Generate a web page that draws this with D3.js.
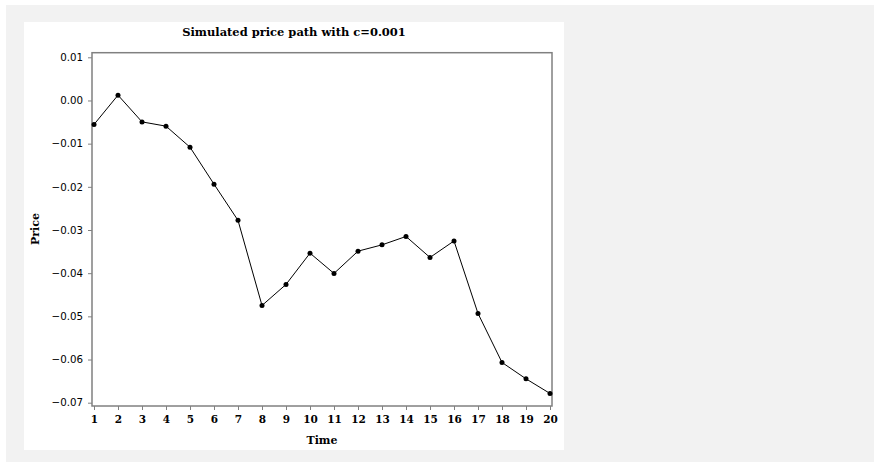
<!DOCTYPE html>
<html><head><meta charset="utf-8">
<script src="https://cdn.jsdelivr.net/npm/d3@7"></script>
<style>html,body{margin:0;padding:0;background:#fff;}</style>
</head><body>
<svg id="c" width="874" height="463"></svg>
<script>
const times = [1,2,3,4,5,6,7,8,9,10,11,12,13,14,15,16,17,18,19,20];
const prices = [-0.00556,0.00123,-0.00496,-0.00595,-0.01082,-0.01938,-0.02777,-0.04748,-0.04261,-0.03536,-0.04006,-0.0349,-0.03344,-0.0315,-0.03636,-0.03254,-0.04933,-0.06068,-0.06447,-0.06786];
const yTicks = [0.01,0.00,-0.01,-0.02,-0.03,-0.04,-0.05,-0.06,-0.07];
const titleText = "Simulated price path with c=0.001";
const xLabel = "Time", yLabel = "Price";

const svg = d3.select("#c");
svg.append("rect").attr("x",6).attr("y",5).attr("width",868).attr("height",457).attr("fill","#f2f2f2");
svg.append("rect").attr("x",24).attr("y",22).attr("width",540).attr("height",428).attr("fill","#fff");

const L=92,R=552,T=52.7,B=406;
const x = d3.scaleLinear().domain([1,20]).range([94,550]);
const y = d3.scaleLinear().domain([0.01,-0.07]).range([57.3,402.7]);
const serif = "'DejaVu Serif', 'Liberation Serif', serif";
const sans = "'DejaVu Sans', sans-serif";
const fmt = v => (v<0?"\u2212":"") + Math.abs(v).toFixed(2);

const gx = svg.append("g").attr("transform",`translate(0,${B})`)
  .call(d3.axisBottom(x).tickValues(times).tickSize(4).tickPadding(5.5).tickFormat(d3.format("d")));
gx.select(".domain").remove();
gx.selectAll("line").attr("stroke","#808080");
gx.selectAll("text").attr("font-family",serif).attr("font-size",10.5).attr("font-weight","bold").attr("fill","#000");

const gy = svg.append("g").attr("transform",`translate(${L},0)`)
  .call(d3.axisLeft(y).tickValues(yTicks).tickSize(4).tickPadding(5).tickFormat(fmt));
gy.select(".domain").remove();
gy.selectAll("line").attr("stroke","#808080");
gy.selectAll("text").attr("font-family",sans).attr("font-size",12).attr("fill","#000");
// fit width of the widest label to the reference (~31.5px)
let maxW = 0;
gy.selectAll("text").each(function(){ maxW = Math.max(maxW, this.getComputedTextLength()); });
if (maxW > 0) gy.selectAll("text").attr("font-size", 12 * 31.5 / maxW);

svg.append("rect").attr("x",L).attr("y",T).attr("width",R-L).attr("height",B-T)
  .attr("fill","none").attr("stroke","#808080").attr("stroke-width",1.5);

const line = d3.line().x((d,i)=>x(times[i])).y(d=>y(d));
svg.append("path").datum(prices).attr("d",line).attr("fill","none").attr("stroke","#000").attr("stroke-width",1);
svg.selectAll("circle.pt").data(prices).enter().append("circle")
  .attr("cx",(d,i)=>x(times[i])).attr("cy",d=>y(d)).attr("r",2.5).attr("fill","#000");

const title = svg.append("text").attr("x",294).attr("y",36).attr("text-anchor","middle")
  .attr("font-family",serif).attr("font-size",11).attr("font-weight","bold").attr("fill","#000").text(titleText);
const tw = title.node().getComputedTextLength();
if (tw > 0) title.attr("font-size", 11 * 224 / tw);
svg.append("text").attr("x",322).attr("y",444).attr("text-anchor","middle")
  .attr("font-family",serif).attr("font-size",11).attr("font-weight","bold").attr("fill","#000").text(xLabel);
svg.append("text").attr("transform","translate(39,229) rotate(-90)").attr("text-anchor","middle")
  .attr("font-family",serif).attr("font-size",11).attr("font-weight","bold").attr("fill","#000").text(yLabel);
</script>
</body></html>
